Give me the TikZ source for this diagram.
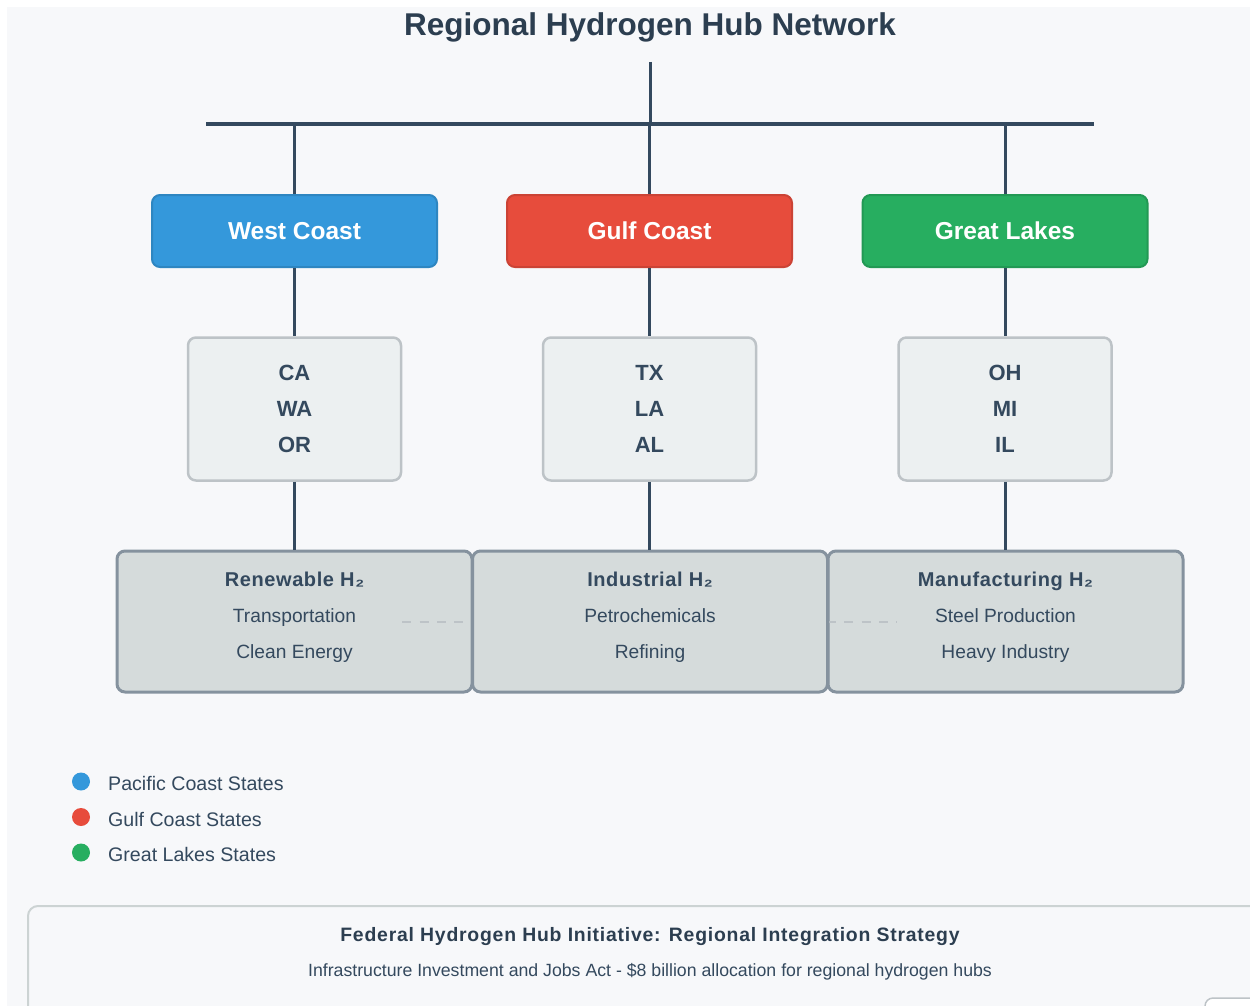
\documentclass[tikz,border=0pt]{standalone}
\usepackage{fontspec}
\setmainfont{Liberation Sans}
\newfontfamily\headfont[LetterSpace=3]{Liberation Sans}
\newfontfamily\noticefont[LetterSpace=4]{Liberation Sans}
\usetikzlibrary{positioning}

\definecolor{panel}{HTML}{F7F8FA}
\definecolor{ink}{HTML}{2C3E50}
\definecolor{wirec}{HTML}{34495E}
\definecolor{west}{HTML}{3498DB}
\definecolor{westedge}{HTML}{2E86C1}
\definecolor{gulf}{HTML}{E74C3C}
\definecolor{gulfedge}{HTML}{CB4335}
\definecolor{lakes}{HTML}{27AE60}
\definecolor{lakesedge}{HTML}{229954}
\definecolor{statefill}{HTML}{ECF0F1}
\definecolor{stateedge}{HTML}{BDC3C7}
\definecolor{usefill}{HTML}{D5DBDB}
\definecolor{useedge}{HTML}{85929E}
\definecolor{noteedge}{HTML}{CCD3D3}

\tikzset{
  region/.style={fill=#1, draw=#1edge, line width=2pt, rounded corners=8pt,
    minimum width=285pt, minimum height=72pt, inner sep=0pt, text=white,
    font=\fontsize{24.5}{28}\selectfont\bfseries},
  states/.style={fill=statefill, draw=stateedge, line width=2.5pt, rounded corners=8pt,
    minimum width=213pt, minimum height=143pt, inner sep=0pt, align=center, text=wirec,
    font=\fontsize{22}{36}\selectfont\bfseries},
  usebox/.style={fill=usefill, draw=useedge, line width=3pt, rounded corners=8pt,
    minimum width=355pt, minimum height=141pt, inner sep=0pt},
  uselabel/.style={align=center, text=wirec, yshift=4.5pt,
    font=\fontsize{19.2}{36}\selectfont},
  wire/.style={draw=wirec, line width=3pt},
  bus/.style={draw=wirec, line width=3.6pt},
  linkdash/.style={draw=stateedge, line width=2pt, dash pattern=on 9pt off 8.4pt},
  legendtext/.style={anchor=west, text=wirec, inner sep=0pt, font=\fontsize{19.6}{22}\selectfont}
}

\begin{document}
\begin{tikzpicture}[x=1pt,y=-1pt]
	% Canvas
	\useasboundingbox (0,0) rectangle (1250,1006);
	\fill[panel] (7,7) rectangle (1250,1006);

	% Title
	\node[text=ink, font=\fontsize{31.5}{36}\selectfont\bfseries] (title) at (650,27) {Regional Hydrogen Hub Network};

	% Regions
	\node[region=west] (west) at (294.5,231) {West Coast};
	\node[region=gulf] (gulf) at (649.5,231) {Gulf Coast};
	\node[region=lakes] (lakes) at (1005,231) {Great Lakes};

	% States
	\node[states] (west-states) at (294.5,409) {CA\\WA\\OR};
	\node[states] (gulf-states) at (649.5,409) {TX\\LA\\AL};
	\node[states] (lakes-states) at (1005,409) {OH\\MI\\IL};

	% Trunk and bus
	\coordinate (root) at (650,62);
	\coordinate (busL) at (206,124);
	\coordinate (busR) at (1094,124);
	\draw[bus] (busL) -- (busR);
	\draw[wire] (root) -- (root |- busL);

	% Uses (middle box last, so it hides the dashed links)
	\node[usebox, label={[uselabel]center:{{\headfont\bfseries\fontsize{20}{24}\selectfont Renewable H₂}\\Transportation\\Clean Energy}}] (renewable) at (294.5,621.5) {};
	\node[usebox, label={[uselabel]center:{{\headfont\bfseries\fontsize{20}{24}\selectfont Manufacturing H₂}\\Steel Production\\Heavy Industry}}] (manufacturing) at (1005.5,621.5) {};
	\draw[linkdash] (west-states.east |- renewable.center) -- (gulf-states.west |- renewable.center);
	\draw[linkdash] (gulf-states.east |- renewable.center) -- (lakes-states.west |- renewable.center);
	\node[usebox, label={[uselabel]center:{{\headfont\bfseries\fontsize{20}{24}\selectfont Industrial H₂}\\Petrochemicals\\Refining}}] (industrial) at (650,621.5) {};

	% Drops
	\foreach \r/\u in {west/renewable, gulf/industrial, lakes/manufacturing} {
		\draw[wire] (\r.north |- busL) -- (\r.north);
		\draw[wire] (\r.south) -- (\r-states.north);
		\draw[wire] (\r-states.south) -- (\r-states.south |- \u.north);
	}

	% Legend
	\foreach \c/\t [count=\i] in {west/Pacific Coast States, gulf/Gulf Coast States, lakes/Great Lakes States} {
		\fill[\c] (81,746+35.5*\i) circle (9);
		\node[legendtext] (legend-\c) at (108,748+35.5*\i) {\t};
	}

	% Notice
	\draw[fill=panel, draw=noteedge, line width=2pt, rounded corners=10pt] (28,906) rectangle (1300,1060);
	\node[text=ink, font=\noticefont\bfseries\fontsize{19.4}{22}\selectfont] (notice) at (650,937) {Federal Hydrogen Hub Initiative: Regional Integration Strategy};
	\node[text=wirec, font=\fontsize{17.7}{20}\selectfont] (act) at (650,972) {Infrastructure Investment and Jobs Act - \$8 billion allocation for regional hydrogen hubs};
	\draw[fill=white, draw=stateedge, line width=1.5pt, rounded corners=8pt] (1205,998) rectangle (1280,1040);
\end{tikzpicture}
\end{document}
